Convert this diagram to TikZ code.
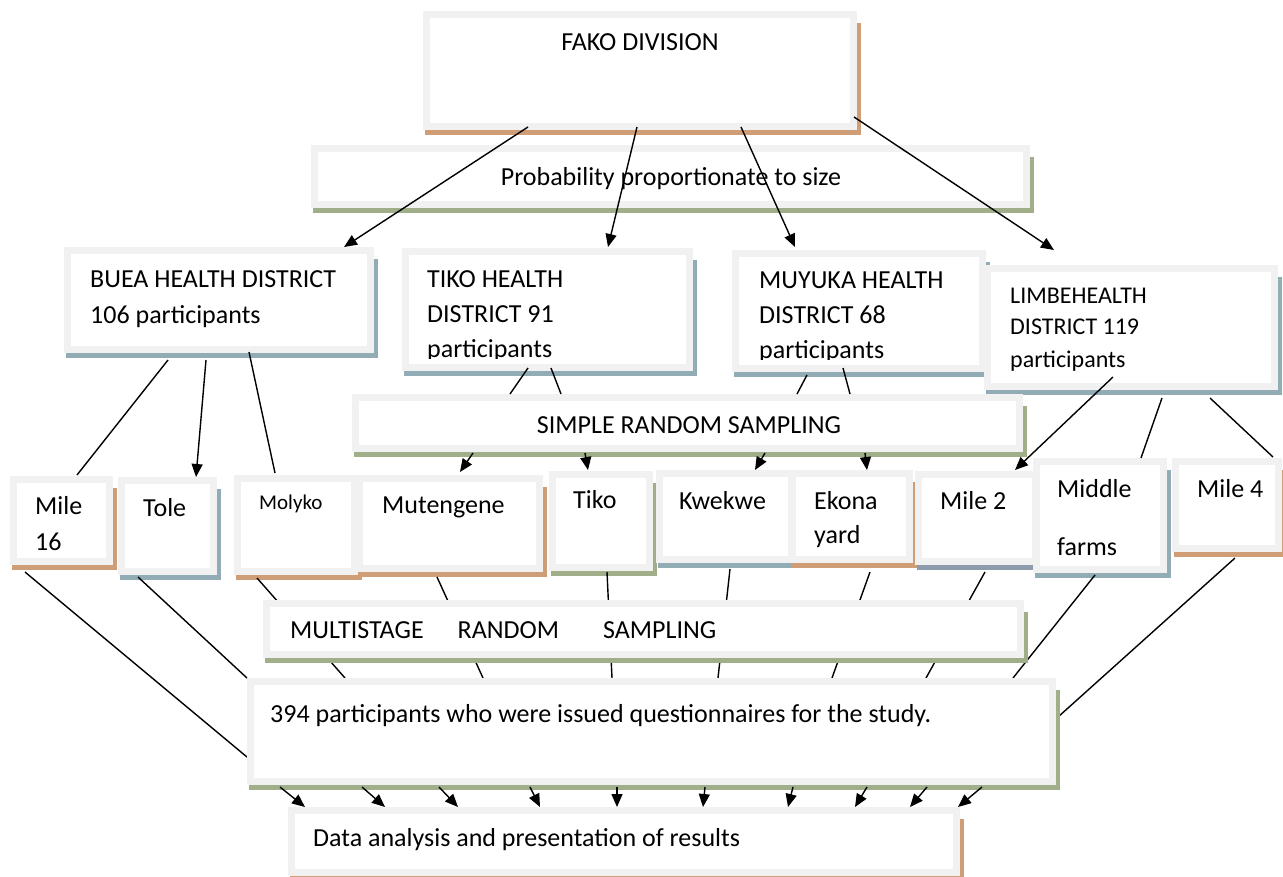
\documentclass[tikz,border=0pt]{standalone}
\usepackage{fontspec}
\setmainfont{Carlito}
\usetikzlibrary{arrows.meta,fit}
\definecolor{framegray}{RGB}{241,241,241}
\definecolor{shorange}{RGB}{208,158,118}
\definecolor{shblue}{RGB}{146,172,182}
\definecolor{shblueb}{RGB}{140,156,172}
\definecolor{shgreen}{RGB}{160,174,138}
\tikzset{
  conn/.style={line width=1.4pt, draw=black},
  arr/.style={conn, -{Triangle[length=13pt,width=11pt]}},
  txt/.style={anchor=base west, inner sep=0pt, text=black, font=\fontsize{26}{32}\selectfont},
  ctxt/.style={txt, anchor=base},
  stxt/.style={txt, font=\fontsize{24}{30}\selectfont},
  mtxt/.style={txt, font=\fontsize{21}{26}\selectfont},
}
% #1 shadow colour, #2 name, #3 x1, #4 y1, #5 x2, #6 y2 (outer, shadow included)
\newcommand{\myWordBox}[6]{%
  \fill[#1] ({#3+2},{#6-5}) rectangle (#5,#6);
  \fill[#1] ({#5-4},{#4+12}) rectangle (#5,#6);
  \fill[framegray] (#3,#4) rectangle ({#5-4},{#6-5});
  \fill[white] ({#3+7},{#4+7}) rectangle ({#5-11},{#6-12});
  \node[fit={(#3,#4) (#5,#6)}, inner sep=0pt] (#2) {};%
}
\begin{document}
\begin{tikzpicture}[x=1pt,y=-1pt]
\useasboundingbox (0,0) rectangle (1283,876);
\fill[white] (0,0) rectangle (1283,876);

% top
\myWordBox{shorange}{fako}{423}{11}{861}{135}
\node[ctxt] (fako-t) at (640,50) {FAKO DIVISION};
\myWordBox{shgreen}{prob}{311}{145}{1034}{213}
\node[ctxt] (prob-t) at (671,185) {Probability proportionate to size};

% districts
\myWordBox{shblue}{buea}{64}{247}{378}{358}
\node[txt] (buea-t1) at (90,287) {BUEA HEALTH DISTRICT};
\node[txt] (buea-t2) at (90,323) {106 participants};
\myWordBox{shblue}{tiko}{402}{248}{697}{376}
\node[txt] (tiko-t1) at (427,287) {TIKO HEALTH};
\node[txt] (tiko-t2) at (427,322) {DISTRICT 91};
\begin{scope}
  \clip (402,248) rectangle (697,358);
  \node[txt] (tiko-t3) at (427,357) {participants};
\end{scope}
\myWordBox{shblue}{muyuka}{732}{250}{990}{377}
\node[txt] (muy-t1) at (759,288) {MUYUKA HEALTH};
\node[txt] (muy-t2) at (759,323) {DISTRICT 68};
\begin{scope}
  \clip (732,250) rectangle (990,359);
  \node[txt] (muy-t3) at (759,358) {participants};
\end{scope}
\myWordBox{shblue}{limbe}{984}{265}{1282}{395}
\node[stxt] (lim-t1) at (1010,303) {LIMBEHEALTH};
\node[stxt] (lim-t2) at (1010,334) {DISTRICT 119};
\node[stxt] (lim-t3) at (1010,367) {participants};

% FAKO connectors
\coordinate (f1) at (528,127); \coordinate (f1e) at (344,247);
\coordinate (f2) at (637,127); \coordinate (f2e) at (608,247);
\coordinate (f3) at (741,127); \coordinate (f3e) at (795,247);
\coordinate (f4) at (854,117); \coordinate (f4e) at (1054,250);
\draw[arr] (f1) -- (f1e);
\draw[arr] (f2) -- (f2e);
\draw[arr] (f3) -- (f3e);
\draw[arr] (f4) -- (f4e);

% simple random sampling
\myWordBox{shgreen}{simple}{352}{394}{1027}{457}
\node[ctxt] (simple-t) at (689,433) {SIMPLE RANDOM SAMPLING};

% small boxes
\myWordBox{shorange}{mile16}{10}{476}{117}{570}
\node[txt] (m16-t1) at (35,514) {Mile};
\node[txt] (m16-t2) at (35,550) {16};
\myWordBox{shblue}{tole}{118}{477}{221}{580}
\node[txt] (tole-t) at (143,516) {Tole};
\myWordBox{shorange}{molyko}{234}{475}{362}{580}
\node[mtxt] (mol-t) at (259,509) {Molyko};
\myWordBox{shorange}{mutengene}{356}{475}{547}{577}
\node[txt] (mut-t) at (382,513) {Mutengene};
\myWordBox{shgreen}{tikob}{549}{471}{657}{576}
\node[txt] (tikob-t) at (573,508) {Tiko};
\myWordBox{shblue}{kwekwe}{656}{470}{799}{568}
\node[txt] (kwe-t) at (679,509) {Kwekwe};
\myWordBox{shorange}{ekona}{789}{470}{917}{568}
\node[txt] (eko-t1) at (814,509) {Ekona};
\node[txt] (eko-t2) at (814,543) {yard};
\myWordBox{shblueb}{mile2}{915}{471}{1043}{570}
\node[txt] (m2-t) at (940,509) {Mile 2};
\myWordBox{shblue}{middle}{1033}{458}{1171}{578}
\node[txt] (mid-t1) at (1057,497) {Middle};
\node[txt] (mid-t2) at (1057,555) {farms};
\myWordBox{shorange}{mile4}{1172}{458}{1286}{557}
\node[txt] (m4-t) at (1197,497) {Mile 4};

% district -> village connectors
\coordinate (b1) at (168,360); \coordinate (b1e) at (77,475);
\coordinate (b2) at (206,360); \coordinate (b2e) at (196,477);
\coordinate (b3) at (249,352); \coordinate (b3e) at (275,473);
\draw[conn] (b1) -- (b1e);
\draw[arr] (b2) -- (b2e);
\draw[conn] (b3) -- (b3e);
\coordinate (t1) at (528,368); \coordinate (t1e) at (510,394);
\coordinate (t2) at (551,368); \coordinate (t2e) at (561,394);
\coordinate (u1) at (807,375); \coordinate (u1e) at (797,394);
\coordinate (u2) at (843,368); \coordinate (u2e) at (850,394);
\draw[conn] (t1) -- (t1e);
\draw[conn] (t2) -- (t2e);
\draw[conn] (u1) -- (u1e);
\draw[conn] (u2) -- (u2e);
\coordinate (l1) at (1113,377); \coordinate (l1e) at (1015,470);
\coordinate (l2) at (1162,398); \coordinate (l2e) at (1141,458);
\coordinate (l3) at (1210,398); \coordinate (l3e) at (1273,457);
\draw[arr] (l1) -- (l1e);
\draw[conn] (l2) -- (l2e);
\draw[conn] (l3) -- (l3e);
\coordinate (s1) at (473,453); \coordinate (s1e) at (460,472);
\coordinate (s2) at (585,453); \coordinate (s2e) at (588,470);
\coordinate (s3) at (765,453); \coordinate (s3e) at (755,470);
\coordinate (s4) at (865,453); \coordinate (s4e) at (867,470);
\draw[arr] (s1) -- (s1e);
\draw[arr] (s2) -- (s2e);
\draw[arr] (s3) -- (s3e);
\draw[arr] (s4) -- (s4e);

% village -> results connectors
\coordinate (v1) at (25,572);   \coordinate (v1e) at (247,757);
\coordinate (v2) at (138,577);  \coordinate (v2e) at (247,678);
\coordinate (v3) at (257,578);  \coordinate (v3e) at (345,678);
\coordinate (v4) at (437,577);  \coordinate (v4e) at (483,678);
\coordinate (v5) at (607,572);  \coordinate (v5e) at (612,678);
\coordinate (v6) at (730,569);  \coordinate (v6e) at (718,678);
\coordinate (v7) at (870,572);  \coordinate (v7e) at (832,678);
\coordinate (v8) at (985,572);  \coordinate (v8e) at (926,678);
\coordinate (v9) at (1095,575); \coordinate (v9e) at (1013,678);
\coordinate (v10) at (1235,558); \coordinate (v10e) at (1058,717);
\foreach \i in {1,...,10} { \draw[conn] (v\i) -- (v\i e); }

% multistage and results
\myWordBox{shgreen}{multi}{263}{600}{1028}{663}
\node[txt] (multi-t) at (290,638) {MULTISTAGE\hspace{34pt}RANDOM\hspace{44pt}SAMPLING};
\myWordBox{shgreen}{res}{247}{678}{1060}{790}
\node[txt] (res-t) at (270,722) {394 participants who were issued questionnaires for the study.};

% data analysis
\myWordBox{shorange}{data}{288}{807}{964}{881}
\node[txt] (data-t) at (313,846) {Data analysis and presentation of results};

\coordinate (r1) at (280,787);  \coordinate (r1e) at (305,807);
\coordinate (r2) at (362,787);  \coordinate (r2e) at (385,807);
\coordinate (r3) at (439,787);  \coordinate (r3e) at (458,807);
\coordinate (r4) at (530,787);  \coordinate (r4e) at (540,807);
\coordinate (r5) at (617,787);  \coordinate (r5e) at (617,807);
\coordinate (r6) at (705,787);  \coordinate (r6e) at (703,807);
\coordinate (r7) at (793,787);  \coordinate (r7e) at (788,807);
\coordinate (r8) at (867,787);  \coordinate (r8e) at (855,807);
\coordinate (r9) at (927,787);  \coordinate (r9e) at (910,807);
\coordinate (r10) at (982,787); \coordinate (r10e) at (958,807);
\foreach \i in {1,...,10} { \draw[arr] (r\i) -- (r\i e); }
\end{tikzpicture}
\end{document}
